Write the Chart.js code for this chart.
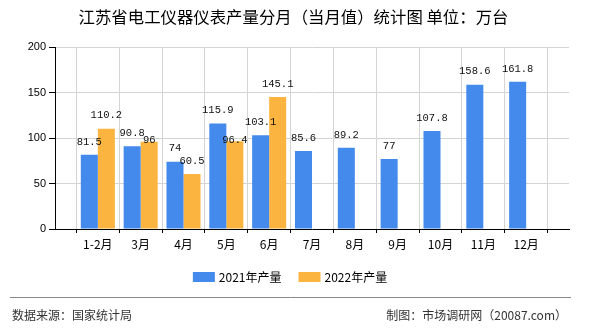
<!DOCTYPE html>
<html>
<head>
<meta charset="utf-8">
<script src="https://cdn.jsdelivr.net/npm/chart.js@4.4.1/dist/chart.umd.min.js"></script>
<style>
  html, body { margin: 0; padding: 0; background: #fff; }
  #wrap { width: 590px; height: 330px; }
</style>
</head>
<body>
<div id="wrap"><canvas id="myChart" width="590" height="330"></canvas></div>
<script>
// chart data
var months = ["1-2月", "3月", "4月", "5月", "6月", "7月", "8月", "9月", "10月", "11月", "12月"];
var output2021 = [81.5, 90.8, 74, 115.9, 103.1, 85.6, 89.2, 77, 107.8, 158.6, 161.8];
var output2022 = [110.2, 96, 60.5, 96.4, 145.1, null, null, null, null, null, null];
var seriesNames = ["2021年产量", "2022年产量"];
var yTicks = [0, 50, 100, 150, 200];

var titleText = "江苏省电工仪器仪表产量分月（当月值）统计图 单位：万台";
var sourceText = "数据来源：国家统计局";
var makerText = "制图：市场调研网（20087.com）";

var BLUE = "#448aec";
var ORANGE = "#fab43f";
var CJK = "'Noto Sans CJK SC', 'Noto Sans', sans-serif";

// empty slot at both ends so the axis runs one step past the first and last month
var labels = [""].concat(months, [""]);
function pad(arr) { return [null].concat(arr, [null]); }

function boxOf(ctx, text, cx, cy) {
    var w = ctx.measureText(text).width;
    return { l: cx - w / 2, r: cx + w / 2, t: cy - 5, b: cy + 5 };
}
function overlapX(a, b) { return Math.min(a.r, b.r) - Math.max(a.l, b.l); }
function overlapY(a, b) { return Math.min(a.b, b.b) - Math.max(a.t, b.t); }

var decorPlugin = {
    id: "decor",
    beforeDraw: function (chart) {
        var ctx = chart.ctx;
        ctx.save();
        ctx.fillStyle = "#fff";
        ctx.fillRect(0, 0, chart.width, chart.height);
        ctx.restore();
    },
    afterDatasetsDraw: function (chart) {
        var ctx = chart.ctx;
        var m0 = chart.getDatasetMeta(0);
        var m1 = chart.getDatasetMeta(1);
        ctx.save();
        ctx.font = "10.5px 'Liberation Mono', 'DejaVu Sans Mono', monospace";
        ctx.fillStyle = "#111";
        ctx.textAlign = "center";
        ctx.textBaseline = "middle";
        for (var i = 0; i < labels.length; i++) {
            var v0 = chart.data.datasets[0].data[i];
            var v1 = chart.data.datasets[1].data[i];
            var blueBox = null, blueBar = null;
            if (v0 != null) {
                var e0 = m0.data[i];
                var t0 = String(v0);
                ctx.fillText(t0, e0.x, e0.y - 13);
                blueBox = boxOf(ctx, t0, e0.x, e0.y - 13);
                blueBox.l -= 2; blueBox.r += 2;
                blueBar = { l: e0.x - e0.width / 2, r: e0.x + e0.width / 2, t: e0.y, b: e0.base };
            }
            if (v1 != null) {
                var e1 = m1.data[i];
                var t1 = String(v1);
                var y1 = e1.y - 13;
                var b1 = boxOf(ctx, t1, e1.x, y1);
                var clash = false;
                if (blueBox && overlapX(b1, blueBox) > 0 && overlapY(b1, blueBox) > 0) clash = true;
                if (blueBar && overlapX(b1, blueBar) > 2 && overlapY(b1, blueBar) > 5) clash = true;
                if (clash) y1 = e1.y - 1.5;
                ctx.fillText(t1, e1.x, y1);
            }
        }
        ctx.restore();
    },
    afterDraw: function (chart) {
        var ctx = chart.ctx;
        ctx.save();
        // title
        ctx.fillStyle = "#000";
        ctx.font = "16.4px " + CJK;
        ctx.textAlign = "center";
        ctx.textBaseline = "middle";
        ctx.fillText(titleText, 293.5, 17);

        // legend
        ctx.font = "12px " + CJK;
        ctx.textAlign = "left";
        var colors = [BLUE, ORANGE];
        var widths = seriesNames.map(function (s) { return ctx.measureText(s).width; });
        var total = 0;
        for (var k = 0; k < seriesNames.length; k++) total += 22 + 4 + widths[k];
        total += 17 * (seriesNames.length - 1);
        var x = 290 - total / 2;
        for (var j = 0; j < seriesNames.length; j++) {
            ctx.fillStyle = colors[j];
            ctx.fillRect(x, 272, 22, 10);
            ctx.fillStyle = "#000";
            ctx.fillText(seriesNames[j], x + 26, 277);
            x += 26 + widths[j] + 17;
        }

        // footer
        ctx.strokeStyle = "#888";
        ctx.lineWidth = 1;
        ctx.beginPath();
        ctx.moveTo(10, 297.5);
        ctx.lineTo(571, 297.5);
        ctx.stroke();
        ctx.fillStyle = "#333";
        ctx.textAlign = "left";
        ctx.fillText(sourceText, 12, 315);
        ctx.textAlign = "right";
        ctx.fillText(makerText, 567, 315);
        ctx.restore();
    }
};

var ctx = document.getElementById("myChart").getContext("2d");
// eslint-disable-next-line no-undef,no-new
new Chart(ctx, {
    type: "bar",
    data: {
        labels: labels,
        datasets: [
            { label: seriesNames[0], data: pad(output2021), backgroundColor: BLUE, borderWidth: 0 },
            { label: seriesNames[1], data: pad(output2022), backgroundColor: ORANGE, borderWidth: 0 },
        ],
    },
    options: {
        responsive: false,
        animation: false,
        devicePixelRatio: 1,
        categoryPercentage: 0.795,
        barPercentage: 1,
        layout: { padding: { left: 10, right: 21, top: 47, bottom: 76 } },
        plugins: {
            legend: { display: false },
            title: { display: false },
            tooltip: { enabled: false },
        },
        scales: {
            x: {
                offset: false,
                grid: { color: "#d4d4d4", tickColor: "#000", tickLength: 4 },
                border: { color: "#000", width: 1 },
                ticks: {
                    autoSkip: false,
                    maxRotation: 0,
                    color: "#000",
                    padding: 4,
                    font: { family: CJK, size: 12 },
                },
                afterFit: function (scale) { scale.height = 25; },
            },
            y: {
                min: 0,
                max: 200,
                afterBuildTicks: function (scale) {
                    scale.ticks = yTicks.map(function (v) { return { value: v }; });
                },
                grid: { color: "#d4d4d4", tickColor: "#000", tickLength: 6 },
                border: { color: "#000", width: 1 },
                ticks: {
                    color: "#000",
                    padding: 3,
                    font: { family: "'Liberation Sans', Arial, sans-serif", size: 11 },
                },
                afterFit: function (scale) { scale.width = 45; },
            },
        },
    },
    plugins: [decorPlugin],
});
</script>
</body>
</html>
